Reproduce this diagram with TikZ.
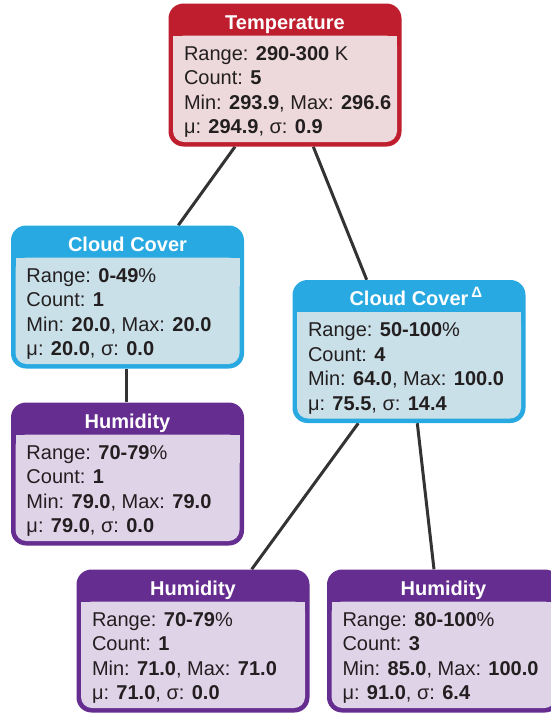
\documentclass[tikz,border=0pt]{standalone}
\usepackage{fontspec}
\setmainfont{Liberation Sans}
\usetikzlibrary{backgrounds}
\definecolor{tempred}{HTML}{BE1E2D}
\definecolor{temppink}{HTML}{EDD9DC}
\definecolor{cloudblue}{HTML}{29A9E1}
\definecolor{cloudpale}{HTML}{C9E0E8}
\definecolor{humpurple}{HTML}{662D91}
\definecolor{humpale}{HTML}{DFD3E8}
\definecolor{ink}{HTML}{231F20}
\definecolor{wire}{HTML}{333333}
\tikzset{
  panel/.style 2 args={rectangle, rounded corners=15pt, minimum width=233pt,
    minimum height=143pt, inner sep=0pt, fill=#1,
    path picture={
      \fill[#2, rounded corners=11pt]
        ([xshift=4.5pt,yshift=4.5pt]path picture bounding box.south west) rectangle
        ([xshift=-4.5pt,yshift=-32pt]path picture bounding box.north east);
      \fill[#2, sharp corners]
        ([xshift=4.5pt,yshift=-60pt]path picture bounding box.north west) rectangle
        ([xshift=-4.5pt,yshift=-32pt]path picture bounding box.north east);
    }},
  tempbox/.style={panel={tempred}{temppink}},
  cloudbox/.style={panel={cloudblue}{cloudpale}},
  humbox/.style={panel={humpurple}{humpale}},
  title/.style={font=\fontsize{20}{24}\selectfont\bfseries, text=white,
    inner sep=0pt, anchor=base},
  body/.style={font=\fontsize{20}{24.5}\selectfont, text=ink, align=left,
    inner sep=0pt, anchor=north west},
  link/.style={draw=wire, line width=3pt}
}
\newcommand{\delt}{\rlap{\hspace{3pt}\raisebox{8pt}{\fontsize{15}{15}\selectfont\bfseries Δ}}}
\begin{document}
\begin{tikzpicture}[x=1pt, y=-1pt]
  \useasboundingbox (0,0) rectangle (550,713);
  \node[tempbox] (temp) at (285,75) {};
  \node[title] (temp-t) at ([yshift=-26pt]temp.north) {Temperature};
  \node[body] (temp-b) at ([xshift=15.5pt,yshift=-43pt]temp.north west)
    {Range: \textbf{290-300} K\\Count: \textbf{5}\\Min: \textbf{293.9}, Max: \textbf{296.6}\\μ: \textbf{294.9}, σ: \textbf{0.9}};

  \node[cloudbox] (cc1) at (127.5,297) {};
  \node[title] (cc1-t) at ([yshift=-26pt]cc1.north) {Cloud Cover};
  \node[body] (cc1-b) at ([xshift=15.5pt,yshift=-43pt]cc1.north west)
    {Range: \textbf{0-49}\%\\Count: \textbf{1}\\Min: \textbf{20.0}, Max: \textbf{20.0}\\μ: \textbf{20.0}, σ: \textbf{0.0}};

  \node[cloudbox] (cc2) at (409,351.5) {};
  \node[title] (cc2-t) at ([yshift=-26pt]cc2.north) {Cloud Cover\delt};
  \node[body] (cc2-b) at ([xshift=15.5pt,yshift=-43pt]cc2.north west)
    {Range: \textbf{50-100}\%\\Count: \textbf{4}\\Min: \textbf{64.0}, Max: \textbf{100.0}\\μ: \textbf{75.5}, σ: \textbf{14.4}};

  \node[humbox] (hum1) at (127.5,474) {};
  \node[title] (hum1-t) at ([yshift=-26pt]hum1.north) {Humidity};
  \node[body] (hum1-b) at ([xshift=15.5pt,yshift=-43pt]hum1.north west)
    {Range: \textbf{70-79}\%\\Count: \textbf{1}\\Min: \textbf{79.0}, Max: \textbf{79.0}\\μ: \textbf{79.0}, σ: \textbf{0.0}};

  \node[humbox] (hum2) at (193,641) {};
  \node[title] (hum2-t) at ([yshift=-26pt]hum2.north) {Humidity};
  \node[body] (hum2-b) at ([xshift=15.5pt,yshift=-43pt]hum2.north west)
    {Range: \textbf{70-79}\%\\Count: \textbf{1}\\Min: \textbf{71.0}, Max: \textbf{71.0}\\μ: \textbf{71.0}, σ: \textbf{0.0}};

  \node[humbox] (hum3) at (443.5,641) {};
  \node[title] (hum3-t) at ([yshift=-26pt]hum3.north) {Humidity};
  \node[body] (hum3-b) at ([xshift=15.5pt,yshift=-43pt]hum3.north west)
    {Range: \textbf{80-100}\%\\Count: \textbf{3}\\Min: \textbf{85.0}, Max: \textbf{100.0}\\μ: \textbf{91.0}, σ: \textbf{6.4}};

  \begin{scope}[on background layer]
    \draw[link] ([xshift=-50pt]temp.south) -- ([xshift=50.8pt]cc1.north);
    \draw[link] ([xshift=28.3pt]temp.south) -- ([xshift=-42.3pt]cc2.north);
    \draw[link] ([xshift=-1pt]cc1.south) -- ([xshift=-1pt]hum1.north);
    \draw[link] ([xshift=-50.7pt]cc2.south) -- ([xshift=58.7pt]hum2.north);
    \draw[link] ([xshift=8.3pt]cc2.south) -- ([xshift=-9.5pt]hum3.north);
  \end{scope}
\end{tikzpicture}
\end{document}
